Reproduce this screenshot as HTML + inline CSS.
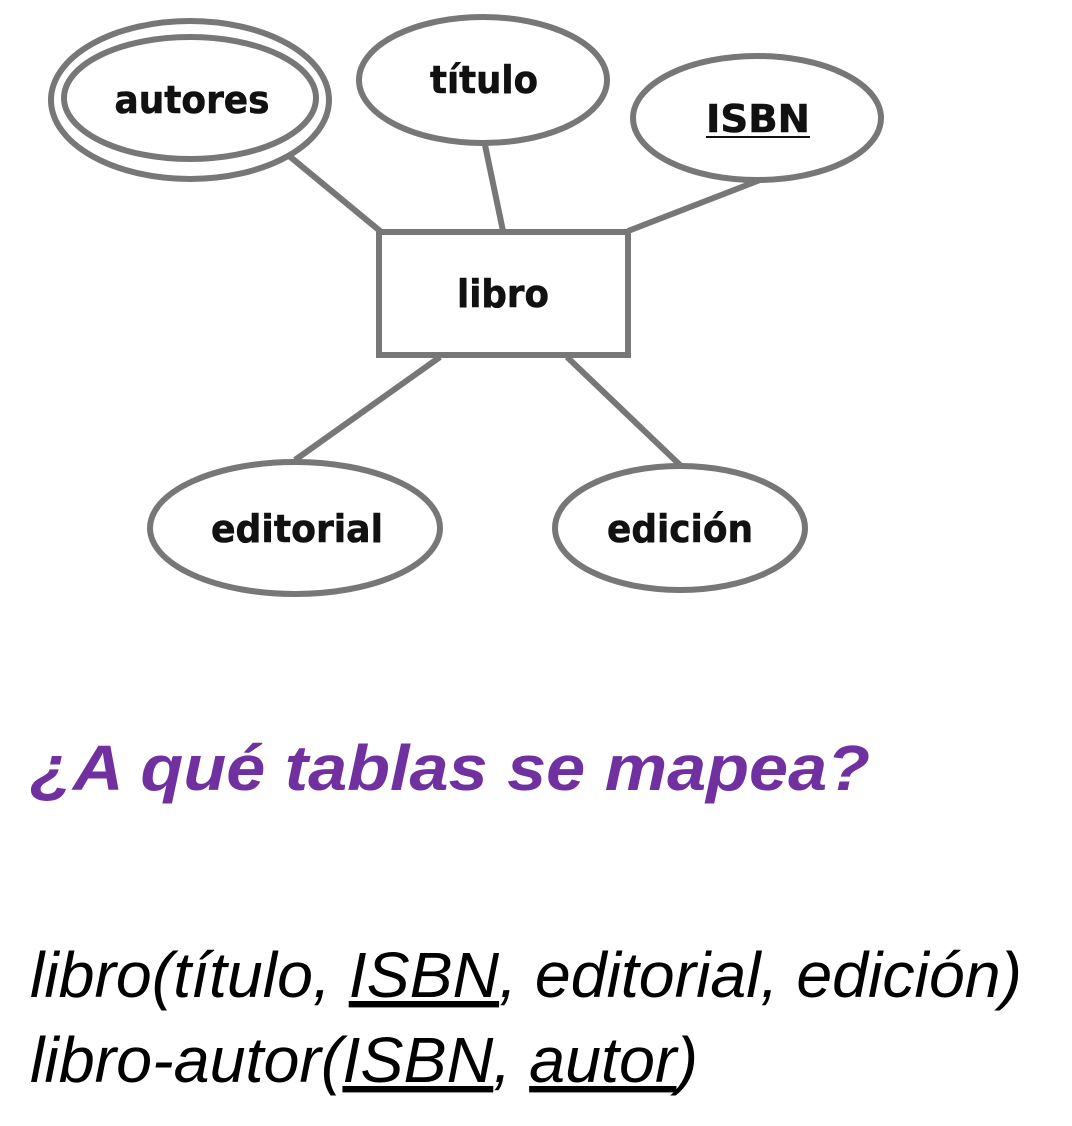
<!DOCTYPE html>
<html><head><meta charset="utf-8"><style>html,body{margin:0;padding:0;background:#fff}svg{display:block}</style></head>
<body>
<svg width="1072" height="1126" viewBox="0 0 1072 1126" xmlns="http://www.w3.org/2000/svg">
<g stroke="#777" stroke-width="6" fill="none">
<line x1="288" y1="155" x2="380" y2="231"/>
<line x1="485" y1="145" x2="503" y2="231"/>
<line x1="760" y1="180" x2="628" y2="231"/>
<line x1="440" y1="357" x2="295" y2="460"/>
<line x1="567" y1="357" x2="680" y2="465"/>
<ellipse cx="190" cy="100" rx="139" ry="79" fill="#fff"/>
<ellipse cx="190" cy="98" rx="126" ry="61"/>
<ellipse cx="483" cy="80" rx="124" ry="63" fill="#fff"/>
<ellipse cx="757" cy="118" rx="124" ry="62" fill="#fff"/>
<rect x="379" y="232" width="249" height="123" fill="#fff"/>
<ellipse cx="295" cy="528" rx="145" ry="66" fill="#fff"/>
<ellipse cx="680" cy="528" rx="125" ry="62" fill="#fff"/>
</g>
<g font-family="'DejaVu Sans',sans-serif" font-weight="bold" font-size="38" fill="#111" text-anchor="middle" stroke="#111" stroke-width="0.6">
<text x="192" y="113" textLength="155" lengthAdjust="spacingAndGlyphs">autores</text>
<text x="484" y="93" textLength="108" lengthAdjust="spacingAndGlyphs">título</text>
<text x="758" y="132" textLength="104" lengthAdjust="spacingAndGlyphs">ISBN</text>
<text x="503" y="307" textLength="92" lengthAdjust="spacingAndGlyphs">libro</text>
<text x="297" y="542" textLength="172" lengthAdjust="spacingAndGlyphs">editorial</text>
<text x="680" y="542" textLength="146" lengthAdjust="spacingAndGlyphs">edición</text>
</g>
<line x1="706" y1="137" x2="810" y2="137" stroke="#111" stroke-width="2"/>
<text x="30" y="790" font-family="'Liberation Sans',sans-serif" font-weight="bold" font-style="italic" font-size="64" fill="#7030A0" textLength="840" lengthAdjust="spacingAndGlyphs">¿A qué tablas se mapea?</text>
<g font-family="'Liberation Sans',sans-serif" font-style="italic" font-size="64" fill="#000">
<text x="30" y="997" textLength="992" lengthAdjust="spacingAndGlyphs">libro(título, <tspan text-decoration="underline">ISBN</tspan>, editorial, edición)</text>
<text x="30" y="1082" textLength="668" lengthAdjust="spacingAndGlyphs">libro-autor(<tspan text-decoration="underline">ISBN</tspan>, <tspan text-decoration="underline">autor</tspan>)</text>
</g>
</svg>
</body></html>
